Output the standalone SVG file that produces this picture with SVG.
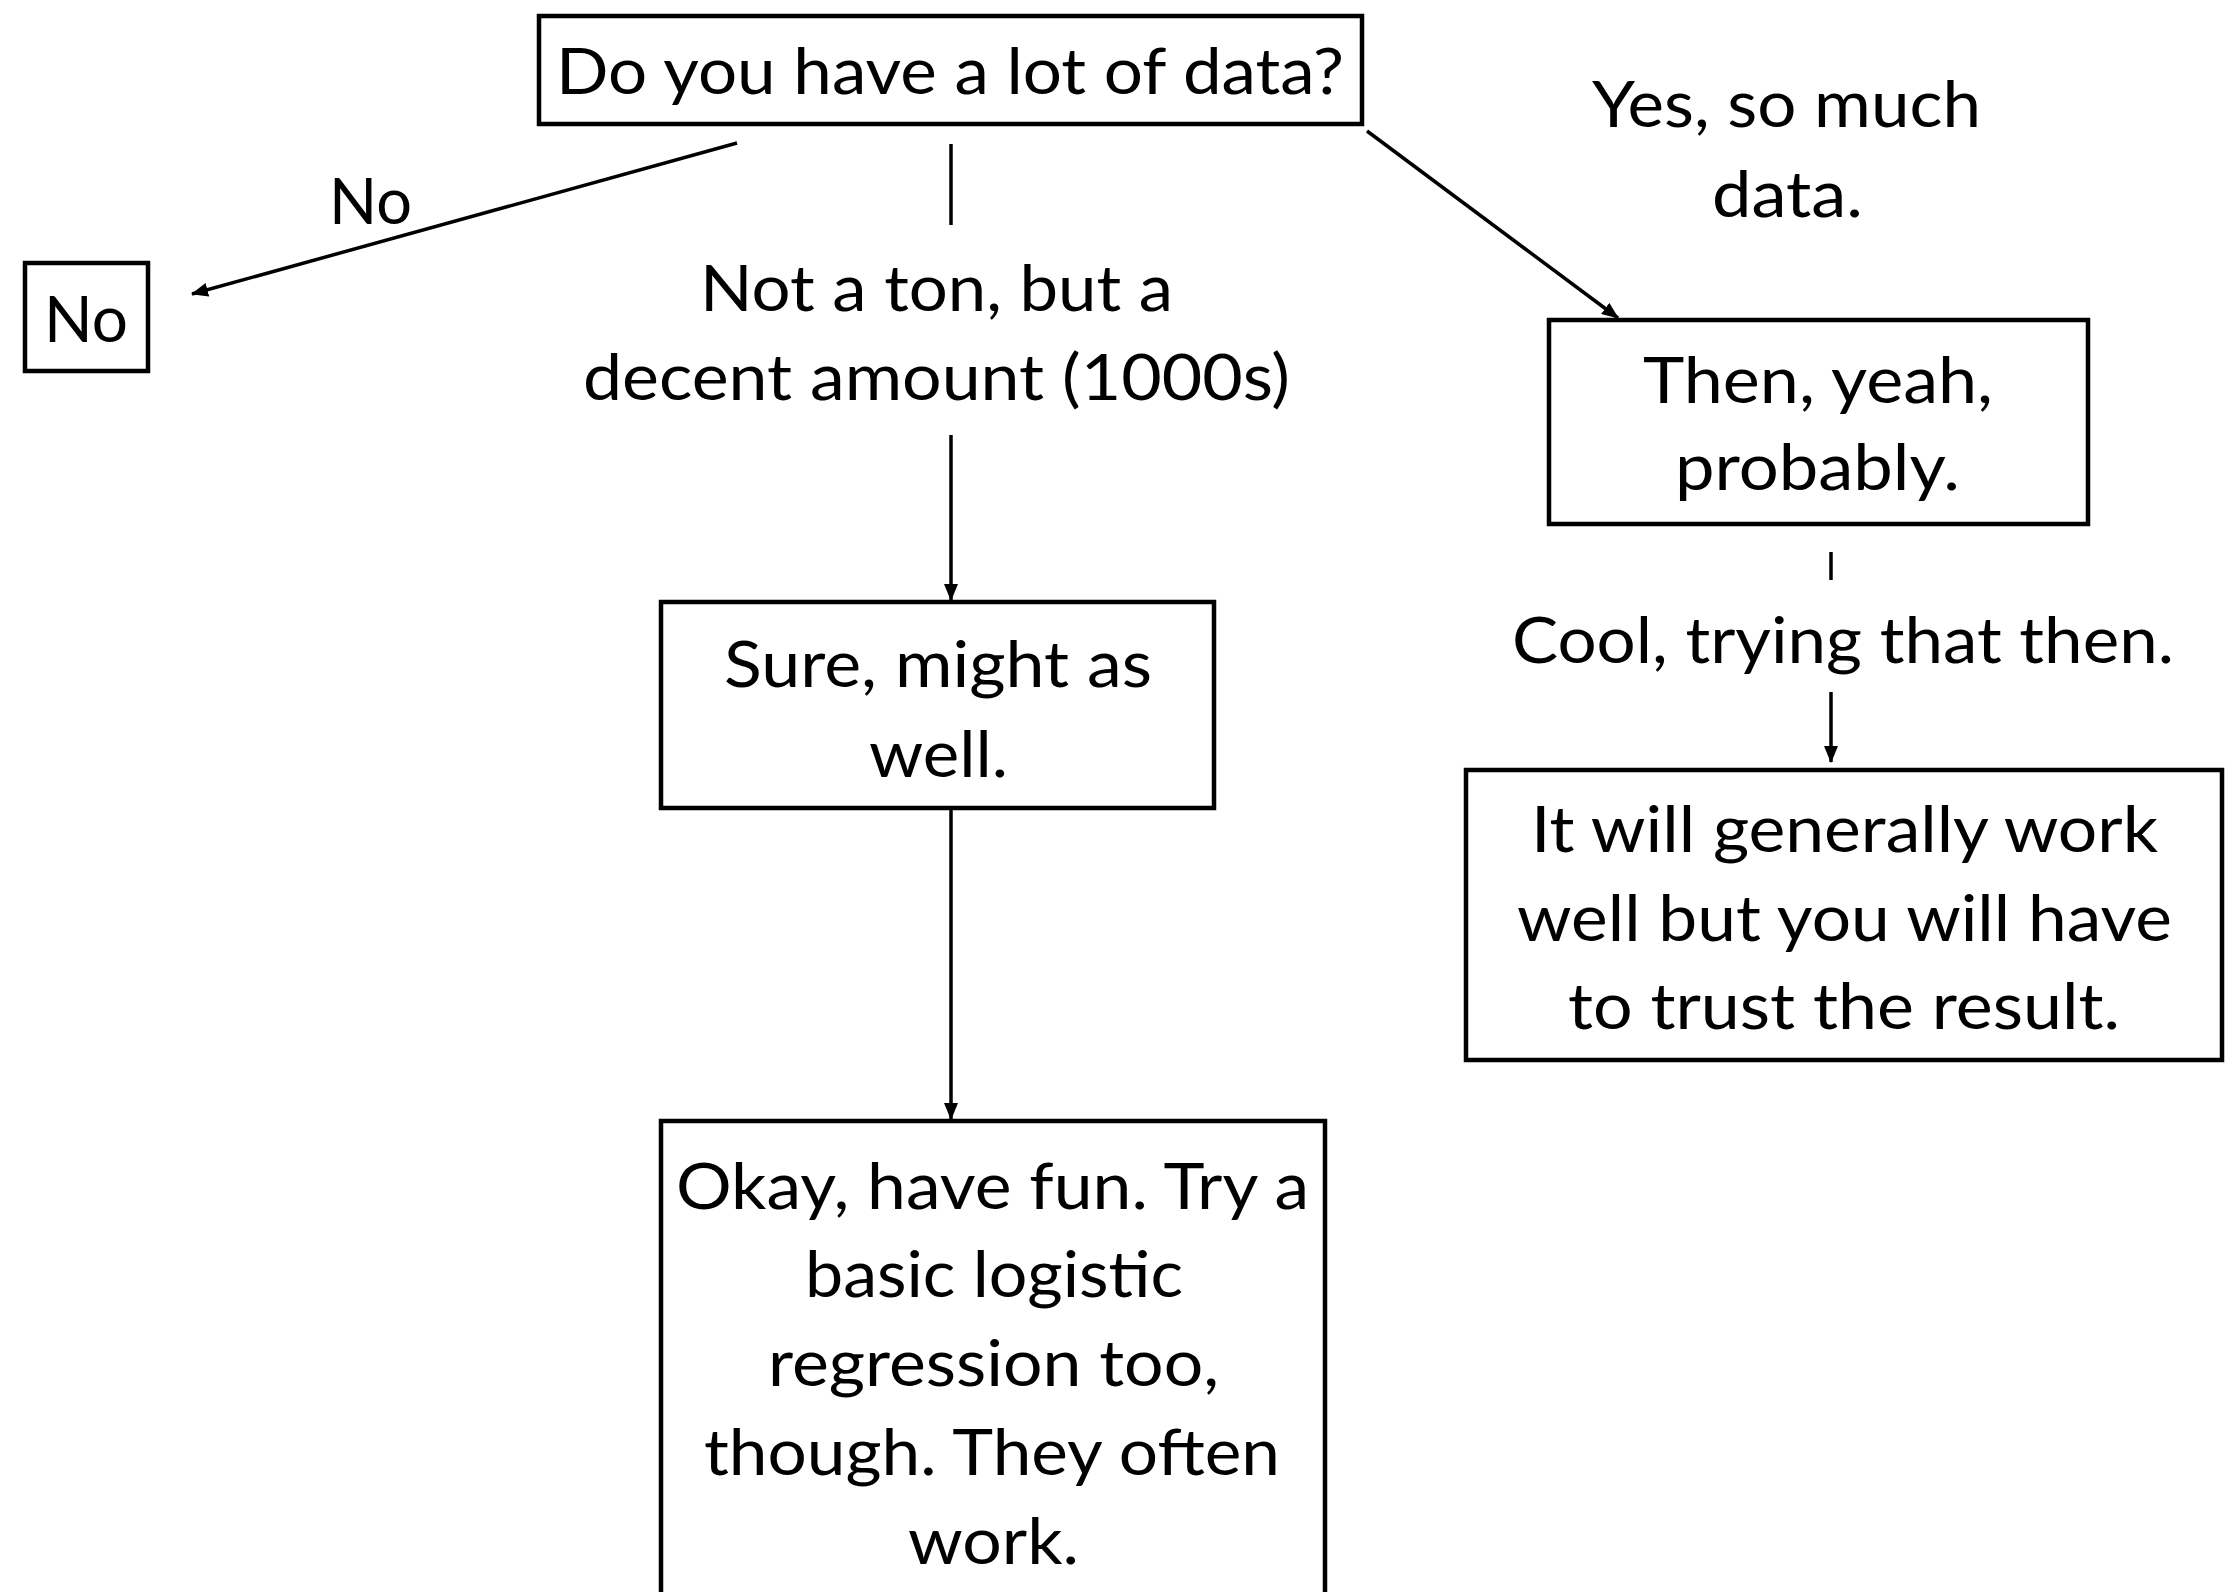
<svg xmlns="http://www.w3.org/2000/svg" width="2235" height="1592" viewBox="0 0 2235 1592">
  <style>
    .box { fill: #ffffff; stroke: #000000; stroke-width: 4.5; }
    .lbl { font-family: Lato, "Open Sans", "Liberation Sans", sans-serif; font-size: 64px; fill: #000000; }
    .edge { fill: none; stroke: #000000; stroke-width: 3.5; }
  </style>
  <defs>
    <marker id="arrow" markerUnits="userSpaceOnUse" markerWidth="17" markerHeight="14" refX="16" refY="7" orient="auto">
      <path d="M0,0 L17,7 L0,14 Z" fill="#000000"/>
    </marker>
  </defs>
  <rect width="2235" height="1592" fill="#ffffff"/>

  <!-- connectors -->
  <g id="connectors">
    <path class="edge" d="M737,143 L192,294" marker-end="url(#arrow)"/>
    <path class="edge" d="M951,144 L951,225"/>
    <path class="edge" d="M951,435 L951,600" marker-end="url(#arrow)"/>
    <path class="edge" d="M951,810 L951,1119" marker-end="url(#arrow)"/>
    <path class="edge" d="M1367,131 L1618,318" marker-end="url(#arrow)"/>
    <path class="edge" d="M1831,552 L1831,580"/>
    <path class="edge" d="M1831,692 L1831,762" marker-end="url(#arrow)"/>
  </g>

  <!-- edge labels -->
  <g id="labels">
    <text class="lbl" x="329" y="224" textLength="83" lengthAdjust="spacingAndGlyphs">No</text>
    <text class="lbl" x="700" y="311" textLength="473" lengthAdjust="spacingAndGlyphs">Not a ton, but a</text>
    <text class="lbl" x="583" y="400" textLength="707" lengthAdjust="spacingAndGlyphs">decent amount (1000s)</text>
    <text class="lbl" x="1592" y="127" textLength="389" lengthAdjust="spacingAndGlyphs">Yes, so much</text>
    <text class="lbl" x="1712" y="217" textLength="151" lengthAdjust="spacingAndGlyphs">data.</text>
    <text class="lbl" x="1512" y="663" textLength="662" lengthAdjust="spacingAndGlyphs">Cool, trying that then.</text>
  </g>

  <g id="question">
    <rect class="box" x="539" y="16" width="823" height="108"/>
    <text class="lbl" x="556" y="94" textLength="788" lengthAdjust="spacingAndGlyphs">Do you have a lot of data?</text>
  </g>

  <g id="answer-no">
    <rect class="box" x="25" y="263" width="123" height="108"/>
    <text class="lbl" x="44" y="342" textLength="84" lengthAdjust="spacingAndGlyphs">No</text>
  </g>

  <g id="then-yeah">
    <rect class="box" x="1549" y="320" width="539" height="204"/>
    <text class="lbl" x="1643" y="403" textLength="350" lengthAdjust="spacingAndGlyphs">Then, yeah,</text>
    <text class="lbl" x="1675" y="490" textLength="285" lengthAdjust="spacingAndGlyphs">probably.</text>
  </g>

  <g id="trust-result">
    <rect class="box" x="1466" y="770" width="756" height="290"/>
    <text class="lbl" x="1531" y="852" textLength="627" lengthAdjust="spacingAndGlyphs">It will generally work</text>
    <text class="lbl" x="1517" y="941" textLength="655" lengthAdjust="spacingAndGlyphs">well but you will have</text>
    <text class="lbl" x="1568" y="1029" textLength="552" lengthAdjust="spacingAndGlyphs">to trust the result.</text>
  </g>

  <g id="sure">
    <rect class="box" x="661" y="602" width="553" height="206"/>
    <text class="lbl" x="724" y="687" textLength="428" lengthAdjust="spacingAndGlyphs">Sure, might as</text>
    <text class="lbl" x="869" y="777" textLength="139" lengthAdjust="spacingAndGlyphs">well.</text>
  </g>

  <g id="have-fun">
    <rect class="box" x="661" y="1121" width="664" height="500"/>
    <text class="lbl" x="676" y="1209" textLength="633" lengthAdjust="spacingAndGlyphs">Okay, have fun. Try a</text>
    <text class="lbl" x="805" y="1297" textLength="378" lengthAdjust="spacingAndGlyphs">basic logistic</text>
    <text class="lbl" x="768" y="1386" textLength="451" lengthAdjust="spacingAndGlyphs">regression too,</text>
    <text class="lbl" x="704" y="1475" textLength="576" lengthAdjust="spacingAndGlyphs">though. They often</text>
    <text class="lbl" x="908" y="1564" textLength="171" lengthAdjust="spacingAndGlyphs">work.</text>
  </g>
</svg>
